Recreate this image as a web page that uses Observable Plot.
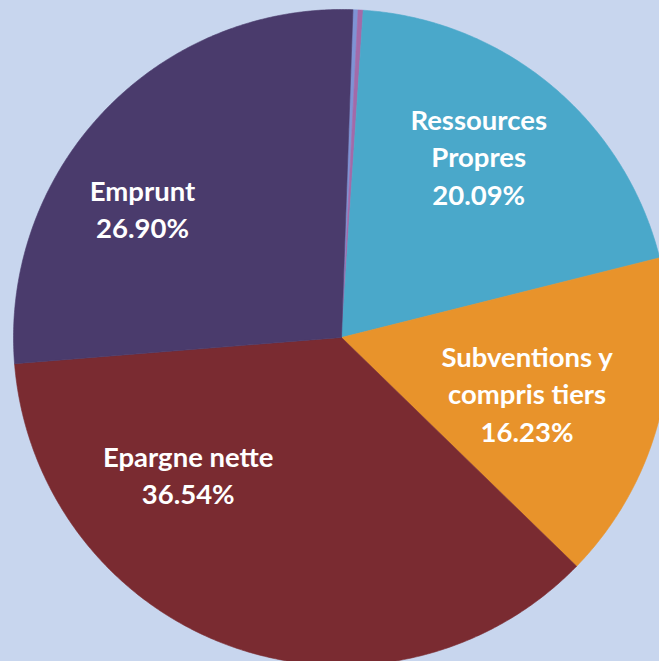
<!DOCTYPE html>
<html>
<head>
<meta charset="utf-8">
<script src="https://cdn.jsdelivr.net/npm/d3@7"></script>
<script src="https://cdn.jsdelivr.net/npm/@observablehq/plot@0.6"></script>
<style>
  html, body { margin: 0; padding: 0; background: #c8d6ee; overflow: hidden; }
  #chart svg { display: block; overflow: hidden; }
</style>
</head>
<body>
<div id="chart"></div>
<script>
// ---- data ----
const categories = ["Autre A", "Autre B", "Ressources Propres", "Subventions y compris tiers", "Epargne nette", "Emprunt"];
const values = [0.25, 0.25, 20.09, 16.23, 36.54, 26.90];
const labelNames = ["", "", "Ressources\nPropres", "Subventions y\ncompris tiers", "Epargne nette", "Emprunt"];
const colors = ["#7f93d4", "#a36aa9", "#4aa8ca", "#e8932b", "#7a2b31", "#4a3b6c"];

// ---- layout (label anchor: angle clockwise from top in degrees, radius fraction) ----
const labelLayout = [null, null, {a: 37, r: 0.695}, {a: 106.5, r: 0.59}, {a: 228.4, r: 0.625}, {a: 303.2, r: 0.725}];
const startDeg = 2;

const W = 659, H = 661;
const cx = 341, cy = 337, R = 328;

const start = startDeg * Math.PI / 180;
const pie = d3.pie().sort(null).value(d => d.value).startAngle(start).endAngle(start + 2 * Math.PI);
const table = categories.map((c, i) => ({category: c, value: values[i], color: colors[i], i}));
const arcs = pie(table);

// polygon points for each slice (data units, unit circle, y up)
const pts = [];
arcs.forEach(a => {
  const c = a.data.category;
  pts.push({category: c, x: 0, y: 0});
  const n = Math.max(2, Math.ceil((a.endAngle - a.startAngle) / (Math.PI / 360)));
  for (let k = 0; k <= n; k++) {
    const t = a.startAngle + (a.endAngle - a.startAngle) * k / n;
    pts.push({category: c, x: Math.sin(t), y: Math.cos(t)});
  }
  pts.push({category: c, x: 0, y: 0});
});

const labels = arcs.filter(a => labelLayout[a.data.i]).map(a => {
  const L = labelLayout[a.data.i];
  const t = L.a * Math.PI / 180;
  return {
    x: L.r * Math.sin(t),
    y: L.r * Math.cos(t),
    text: labelNames[a.data.i] + "\n" + a.data.value.toFixed(2) + "%"
  };
});

const chart = Plot.plot({
  width: W,
  height: H,
  margin: 0,
  style: {background: "#c8d6ee", overflow: "hidden"},
  x: {domain: [-1, 1], range: [cx - R, cx + R], axis: null},
  y: {domain: [-1, 1], range: [cy + R, cy - R], axis: null},
  color: {domain: categories, range: colors},
  marks: [
    Plot.line(pts, {x: "x", y: "y", z: "category", fill: "category", stroke: "category", strokeWidth: 0.6, curve: "linear"}),
    Plot.text(labels, {x: "x", y: "y", text: "text", fill: "white", fontSize: 27.5, fontWeight: "bold", fontFamily: "Lato, 'Open Sans', sans-serif", lineHeight: 1.36})
  ]
});
document.getElementById("chart").appendChild(chart);
</script>
</body>
</html>
